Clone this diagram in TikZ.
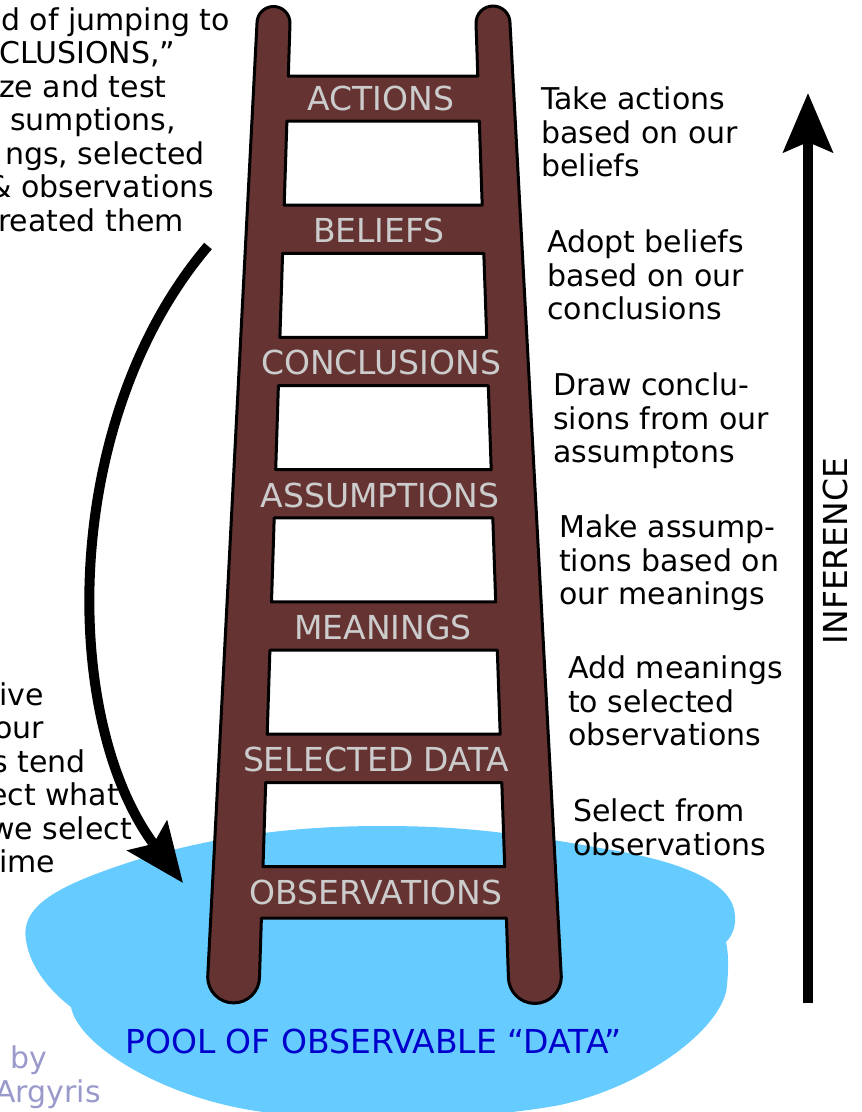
\documentclass[tikz,border=0pt]{standalone}
\usepackage{fontspec}
\setmainfont{DejaVu Sans}
\usetikzlibrary{arrows.meta}

\definecolor{ladderbrown}{HTML}{663333}
\definecolor{rungtext}{HTML}{CCCCCC}
\definecolor{pool}{HTML}{66CCFF}
\definecolor{pooltext}{HTML}{0000CC}
\definecolor{credit}{HTML}{9999CC}

\begin{document}
\begin{tikzpicture}
    [x=1pt, y=-1pt,
     rung/.style={text=rungtext, font=\fontsize{33}{38}\selectfont, anchor=base, inner sep=0pt},
     note/.style={font=\fontsize{30}{33.5}\selectfont, align=left, anchor=base west, inner sep=0pt},
     bigarrow/.style={line width=10pt, -{Stealth[length=59pt, width=49pt, inset=10pt]}}]
    \useasboundingbox (0,0) rectangle (862,1112);
    \clip (0,0) rectangle (862,1112);
    % pool of data, two lobes with a notch on each side
    \fill[pool] (71,1007) .. controls (78,1045) and (160,1095) .. (250,1110)
        .. controls (340,1125) and (480,1120) .. (560,1105)
        .. controls (650,1085) and (725,1025) .. (727,985)
        .. controls (729,965) and (728,950) .. (726,942)
        .. controls (733,935) and (736,925) .. (735,915)
        .. controls (733,885) and (690,862) .. (600,848)
        .. controls (500,830) and (450,826) .. (380,826)
        .. controls (280,826) and (200,840) .. (130,862)
        .. controls (60,885) and (20,905) .. (26,940)
        .. controls (30,970) and (55,995) .. (71,1007) -- cycle;
    % ladder, rungs are the parts between the holes
    \path[fill=ladderbrown, draw=black, line width=3pt, line join=round, even odd rule]
        (257,23) arc[start angle=180, end angle=360, radius=16.5]
        -- (288.3,76) -- (477.8,76) -- (476,23)
        arc[start angle=180, end angle=360, radius=17]
        -- (561.3,977) arc[start angle=0, end angle=180, radius=26.45]
        -- (506.4,918) -- (261.4,918) -- (259.5,977)
        arc[start angle=0, end angle=180, radius=25.9] -- cycle
        (286.9,121) -- (479.3,121) -- (482.2,205) -- (284.2,205) -- cycle
        (282.6,253.3) -- (483.8,253.3) -- (486.7,337.3) -- (279.9,337.3) -- cycle
        (278.4,385.6) -- (488.3,385.6) -- (491.2,469.6) -- (275.7,469.6) -- cycle
        (274.2,517.9) -- (492.8,517.9) -- (495.7,601.9) -- (271.5,601.9) -- cycle
        (269.9,650.2) -- (497.3,650.2) -- (500.2,734.2) -- (267.2,734.2) -- cycle
        (265.7,782.5) -- (501.8,782.5) -- (504.7,866.5) -- (263.0,866.5) -- cycle;
    \node[rung] (actions) at (381,110) {ACTIONS};
    \node[rung] (beliefs) at (379,242.3) {BELIEFS};
    \node[rung] (conclusions) at (381,374.7) {CONCLUSIONS};
    \node[rung] (assumptions) at (380,507) {ASSUMPTIONS};
    \node[rung] (meanings) at (383,639.3) {MEANINGS};
    \node[rung] (selected) at (376,771.7) {SELECTED DATA};
    \node[rung] (observations) at (376,904) {OBSERVATIONS};
    \node[text=pooltext, font=\fontsize{33}{38}\selectfont, anchor=base, inner sep=0pt]
        (pooldata) at (373.5,1053) {POOL OF OBSERVABLE “DATA”};

    % steps on the right (base is the last line)
    \node[note] (take) at (541,176.5) {Take actions\\based on our\\beliefs};
    \node[note] (adopt) at (547,319.5) {Adopt beliefs\\based on our\\conclusions};
    \node[note] (drawc) at (553,462.5) {Draw conclu-\\sions from our\\assumptons};
    \node[note] (make) at (559,604.5) {Make assump-\\tions based on\\our meanings};
    \node[note] (add) at (568,745.5) {Add meanings\\to selected\\observations};
    \node[note] (select) at (573,855) {Select from\\observations};

    % inference arrow
    \coordinate (infbot) at (808,1003);
    \coordinate (inftop) at (808,93);
    \draw[bigarrow] (infbot) -- (inftop);
    \node[rotate=90, font=\fontsize{33}{38}\selectfont, inner sep=0pt] (inference) at (835,551) {INFERENCE};

    % text cut at the left edge
    \node[note] (top1) at (1,30) {d of jumping to};
    \node[note] (top2) at (-1,63.5) {CLUSIONS,”};
    \node[note] (top3) at (-1,97) {ze and test};
    \node[note] (top4) at (10,130.5) {sumptions,};
    \node[note] (top5) at (5,164) {ngs, selected};
    \node[note] (top6) at (-12,197.5) {\& observations};
    \node[note] (top7) at (-2,231) {reated them};
    \node[note] (low1) at (-1,705) {ive};
    \node[note] (low2) at (-6,738.5) {our};
    \node[note] (low3) at (-8,772) {s tend};
    \node[note] (low4) at (-11,805.5) {ect what};
    \node[note] (low5) at (-10,839) {we select};
    \node[note] (low6) at (-1,872.5) {ime};
    \node[note, text=credit] (by) at (10,1068) {by};
    \node[note, text=credit] (argyris) at (-5,1102) {Argyris};

    % reflexive loop
    \coordinate (loopstart) at (208,246);
    \coordinate (looptip) at (183,883);
    \draw[bigarrow] (loopstart) .. controls (60,420) and (60,720) .. (looptip);
\end{tikzpicture}
\end{document}
